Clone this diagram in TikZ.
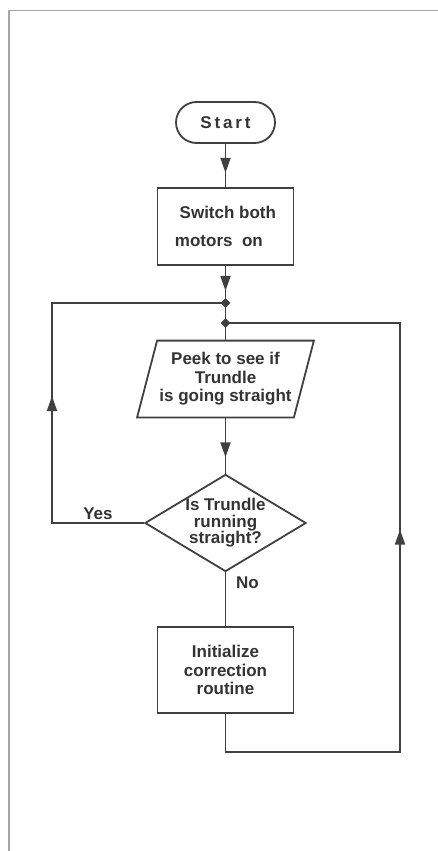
\documentclass[tikz,border=0pt]{standalone}
\usepackage{fontspec}
\setmainfont{Liberation Sans}
\usetikzlibrary{shapes.geometric,arrows.meta,decorations.markings,positioning}
\tikzset{
  ln/.style={draw=black!75, line width=0.9pt},
  txt/.style={text=black!80, font=\fontsize{8.5}{9.3}\selectfont\bfseries, align=center},
  boxnode/.style={ln, txt, rectangle, inner sep=0pt},
  junc/.style={diamond, fill=black!75, inner sep=0pt, minimum size=5pt},
  tipat/.style={postaction={decorate}, decoration={markings,
     mark=at position #1 with {\arrow{Triangle[length=7.5pt,width=5pt]}}}},
  framecol/.style={draw=black!35, line width=0.8pt}
}
\begin{document}
\begin{tikzpicture}[x=0.5pt,y=-0.5pt]
\useasboundingbox (0,0) rectangle (438,851);
\draw[framecol] (438,10.5) -- (9,10.5) -- (9,851);

\node[boxnode, rounded corners=10.25pt, minimum width=49.5pt, minimum height=20.5pt] (start) at (225.5,122.5) {S\,t\,a\,r\,t};
\node[boxnode, minimum width=68pt, minimum height=38.5pt, align=left,
      font=\fontsize{8.5}{14}\selectfont\bfseries] (switch) at (225.5,226.5) {\ Switch both\\motors\ \ on};
\node[junc] (j1) at (225.5,303) {};
\node[junc] (j2) at (225.5,323) {};
\node[txt, inner sep=0pt, minimum width=78pt, minimum height=38pt] (peek) at (225.5,379) {Peek to see if\\Trundle\\is going straight};
\draw[ln] ([xshift=5pt]peek.north west) -- ([xshift=5pt]peek.north east)
   -- ([xshift=-5pt]peek.south east) -- ([xshift=-5pt]peek.south west) -- cycle;
\node[ln, txt, diamond, aspect=1.66, inner sep=0pt, minimum width=78pt, minimum height=47pt,
      font=\fontsize{8.5}{8.2}\selectfont\bfseries] (test) at (225.5,523) {Is Trundle\\running\\straight?};
\node[boxnode, minimum width=68pt, minimum height=43pt] (init) at (225.5,670) {Initialize\\correction\\routine};

\coordinate (lc1) at (52,523);
\coordinate (lc2) at (52,303);
\coordinate (rc1) at (400,752);

\node[txt] (yes) at (98,514) {Yes};
\node[txt, anchor=west] (no) at (229,583) {No};

\draw[ln, tipat=14.5pt] (start.south) -- (switch.north);
\draw[ln, tipat=12.5pt] (switch.south) -- (j1.center);
\draw[ln] (j1.center) -- (j2.center);
\draw[ln] (j2.center) -- (peek.north);
\draw[ln, tipat=20pt] (peek.south) -- (test.north);
\draw[ln, tipat=109.5pt] (test.west) -- (lc1) -- (lc2) -- (j1.center);
\draw[ln] (test.south) -- (init.north);
\draw[ln, tipat=217.5pt] (init.south) |- (rc1) |- (j2.center);
\end{tikzpicture}
\end{document}
